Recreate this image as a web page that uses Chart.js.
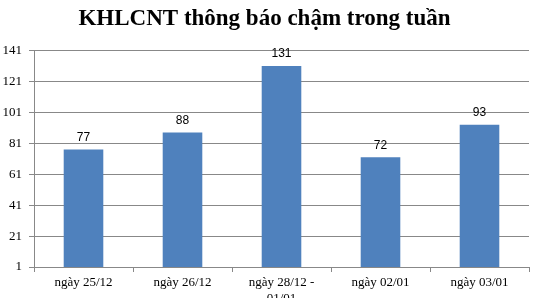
<!DOCTYPE html>
<html><head><meta charset="utf-8">
<script src="https://cdn.jsdelivr.net/npm/chart.js@4"></script>
<style>html,body{margin:0;padding:0;background:#fff}#wrap{width:535px;height:298px}</style>
</head><body><div id="wrap"><canvas id="c" width="535" height="298"></canvas></div>
<script>
const categories = [["ngày 25/12"], ["ngày 26/12"], ["ngày 28/12 -", "01/01"], ["ngày 02/01"], ["ngày 03/01"]];
const values = [77, 88, 131, 72, 93];
const yMin = 1, yMax = 141, yStep = 20;
const title = "KHLCNT thông báo chậm trong tuần";

const labelPlugin = {
  id: 'valueLabels',
  afterDatasetsDraw(chart) {
    const ctx = chart.ctx;
    const meta = chart.getDatasetMeta(0);
    ctx.save();
    ctx.font = '12px "Liberation Sans", Arial, sans-serif';
    ctx.fillStyle = '#000';
    ctx.textAlign = 'center';
    ctx.textBaseline = 'bottom';
    meta.data.forEach((bar, i) => {
      ctx.fillText(String(values[i]), bar.x, bar.y - 6);
    });
    ctx.restore();
  }
};

new Chart(document.getElementById('c'), {
  type: 'bar',
  data: { labels: categories, datasets: [{ data: values, backgroundColor: '#4F81BD', barPercentage: 0.4, categoryPercentage: 1.0 }] },
  options: {
    responsive: false, animation: false,
    layout: { padding: { left: 0, right: 6, top: 0, bottom: 0 } },
    plugins: {
      legend: { display: false }, tooltip: { enabled: false },
      title: { display: true, text: title, color: '#000', font: { family: '"Liberation Serif", "Times New Roman", serif', size: 23, weight: 'bold' }, padding: { top: 5, bottom: 18 } }
    },
    scales: {
      x: {
        grid: { display: true, drawOnChartArea: false, drawTicks: true, tickLength: 5, color: '#888', offset: true },
        border: { display: true, color: '#888' },
        ticks: { color: '#000', font: { family: '"Liberation Serif", "Times New Roman", serif', size: 13 }, maxRotation: 0, autoSkip: false, padding: 3 },
        afterFit(s) { s.height = 31; }
      },
      y: {
        min: yMin, max: yMax,
        grid: { color: '#888', tickLength: 5 },
        border: { display: true, color: '#888' },
        ticks: { stepSize: yStep, color: '#000', font: { family: '"Liberation Serif", "Times New Roman", serif', size: 13 }, padding: 7 },
        afterFit(s) { s.width = 34; }
      }
    }
  },
  plugins: [labelPlugin]
});
</script>
</body></html>
